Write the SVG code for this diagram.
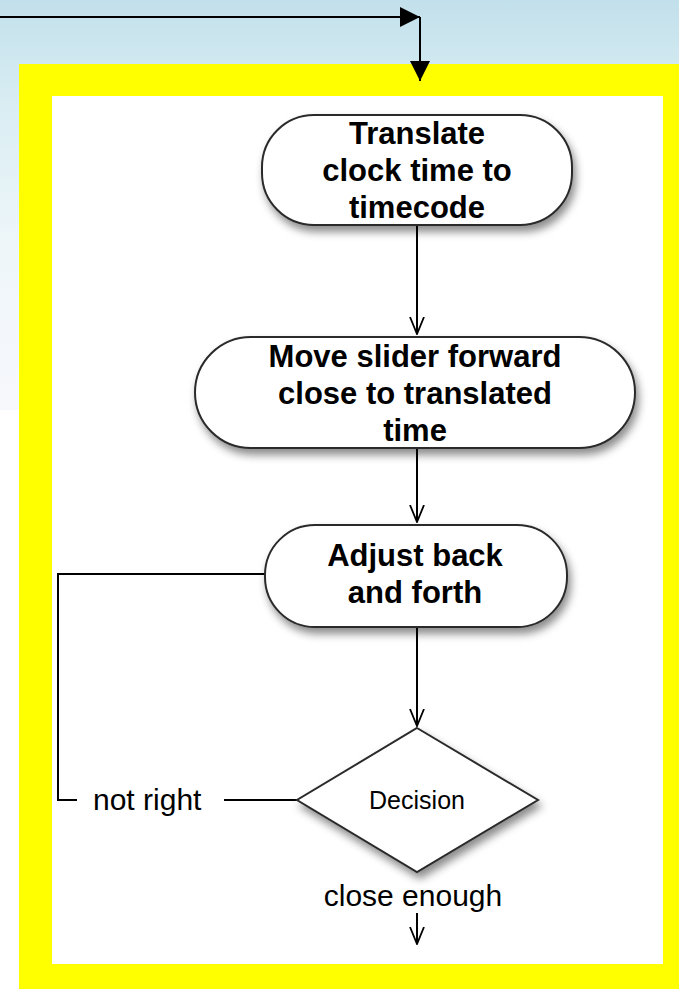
<svg xmlns="http://www.w3.org/2000/svg" width="679" height="989" viewBox="0 0 679 989">
<defs>
<linearGradient id="bg" x1="0" y1="0" x2="0" y2="1">
<stop offset="0" stop-color="#c2e0eb"/>
<stop offset="0.25" stop-color="#d9edf3"/>
<stop offset="0.6" stop-color="#eef6f9"/>
<stop offset="1" stop-color="#f7f8fc"/>
</linearGradient>
<filter id="sh" x="-20%" y="-20%" width="150%" height="160%">
<feDropShadow dx="3" dy="6" stdDeviation="4" flood-color="#000" flood-opacity="0.45"/>
</filter>
<marker id="fa" viewBox="0 0 20 20" refX="20" refY="10" markerWidth="20" markerHeight="20" markerUnits="userSpaceOnUse" orient="auto">
<path d="M0,0 L20,10 L0,20 Z" fill="#000"/>
</marker>
<marker id="va" viewBox="0 0 18 16" refX="17" refY="8" markerWidth="18" markerHeight="16" markerUnits="userSpaceOnUse" orient="auto">
<path d="M0,1 L17,8 L0,15" fill="none" stroke="#000" stroke-width="1.8"/>
</marker>
</defs>
<style>
.node{fill:#fff;stroke:#2a2a2a;stroke-width:2;filter:url(#sh)}
.bt{font-family:"Liberation Sans",Arial,Helvetica,sans-serif;font-weight:bold;font-size:31px;fill:#000;text-anchor:middle}
.lt{font-family:"Liberation Sans",Arial,Helvetica,sans-serif;font-size:30px;fill:#000}
.dt{font-family:"Liberation Sans",Arial,Helvetica,sans-serif;font-size:25px;fill:#000;text-anchor:middle}
.ln{fill:none;stroke:#000;stroke-width:2}
</style>
<rect x="0" y="0" width="679" height="410" fill="url(#bg)"/>
<rect x="0" y="410" width="679" height="579" fill="#fff"/>
<rect x="19" y="64" width="660" height="925" fill="#ffff00"/>
<rect x="52" y="96" width="611" height="868" fill="#fff"/>

<g id="connectors">
<path class="ln" d="M0,17 H420" marker-end="url(#fa)"/>
<path class="ln" d="M420,17 V81" marker-end="url(#fa)"/>
<path class="ln" d="M417,226 V334" marker-end="url(#va)"/>
<path class="ln" d="M417,449 V522" marker-end="url(#va)"/>
<path class="ln" d="M417,628 V726" marker-end="url(#va)"/>
<path class="ln" d="M265,574 H58 V800 H77"/>
<path class="ln" d="M224,800 H297"/>
<path class="ln" d="M417,913 V944" marker-end="url(#va)"/>
</g>

<g id="n1">
<rect class="node" x="262" y="115" width="310" height="110" rx="52" ry="52"/>
<text class="bt" x="417" y="144">Translate</text>
<text class="bt" x="417" y="181">clock time to</text>
<text class="bt" x="417" y="218">timecode</text>
</g>
<g id="n2">
<rect class="node" x="195" y="337" width="440" height="111" rx="56" ry="56"/>
<text class="bt" x="415" y="367">Move slider forward</text>
<text class="bt" x="415" y="404">close to translated</text>
<text class="bt" x="415" y="441">time</text>
</g>
<g id="n3">
<rect class="node" x="265" y="525" width="302" height="102" rx="50" ry="50"/>
<text class="bt" x="415" y="566">Adjust back</text>
<text class="bt" x="415" y="603">and forth</text>
</g>
<g id="decision">
<polygon class="node" points="417,728 538,800 417,872 297,800"/>
<text class="dt" x="417" y="809">Decision</text>
</g>
<g id="labels">
<text class="lt" x="93" y="810">not right</text>
<text class="lt" x="413" y="906" text-anchor="middle">close enough</text>
</g>
</svg>
